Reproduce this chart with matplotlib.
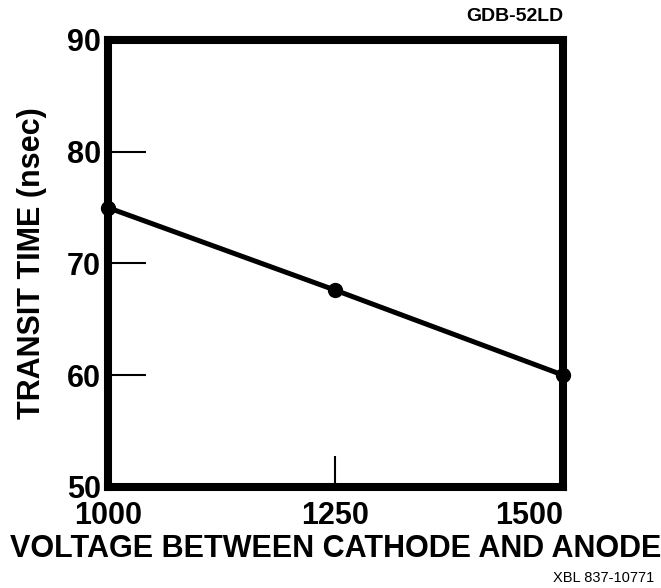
import matplotlib
matplotlib.use('Agg')
import matplotlib.pyplot as plt

voltage = [1000, 1250, 1500]
transit_ns = [75.0, 67.6, 60.0]

x_ticks = [1000, 1250, 1500]
y_ticks = [50, 60, 70, 80, 90]

plt.rcParams['font.family'] = ['Liberation Sans', 'DejaVu Sans']
plt.rcParams['font.weight'] = 'bold'

fig = plt.figure(figsize=(6.61, 5.88), dpi=100)
ax = fig.add_axes([0.163, 0.172, 0.689, 0.760])

ax.plot(voltage, transit_ns, color='black', lw=3.6, marker='o', ms=10,
        clip_on=False, zorder=3)

ax.set_xlim(1000, 1500)
ax.set_ylim(50, 90)
ax.set_xticks(x_ticks)
ax.set_yticks(y_ticks)
ax.set_xticklabels([str(v) for v in x_ticks], fontsize=22, fontweight='bold')
ax.set_yticklabels([str(v) for v in y_ticks], fontsize=22, fontweight='bold')
ax.get_xticklabels()[-1].set_ha('right')

ax.tick_params(axis='y', direction='in', length=27, width=1.5, pad=5)
ax.tick_params(axis='x', direction='in', length=22, width=1.5, pad=10)

for s in ax.spines.values():
    s.set_linewidth(5.8)

ax.set_xlabel('VOLTAGE BETWEEN CATHODE AND ANODE', fontsize=22,
              fontweight='bold', labelpad=2)
ax.set_ylabel('TRANSIT TIME (nsec)', fontsize=22, fontweight='bold',
              labelpad=14)

fig.text(0.853, 0.972, 'GDB-52LD', ha='right', va='center',
         fontsize=14, fontweight='bold')
fig.text(0.99, 0.017, 'XBL 837-10771', ha='right', va='center',
         fontsize=10.5, fontweight='normal')

fig.savefig('out.png', dpi=100)
